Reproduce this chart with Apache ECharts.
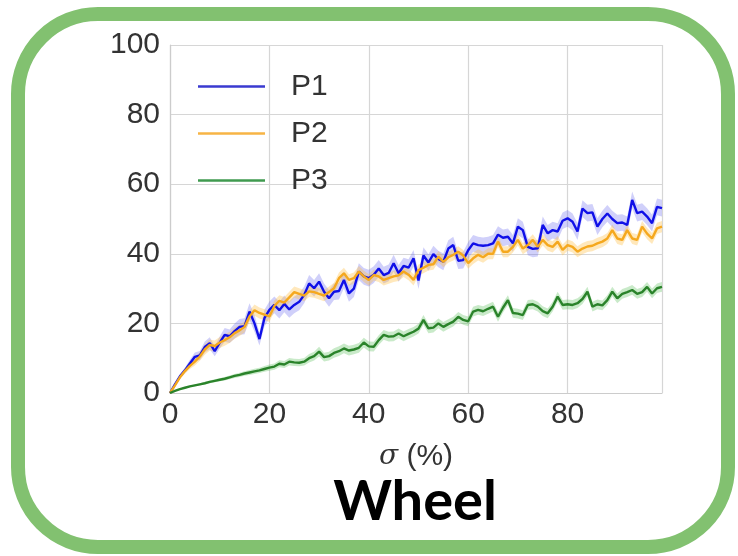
<!DOCTYPE html>
<html>
<head>
<meta charset="utf-8">
<script src="https://cdn.jsdelivr.net/npm/echarts@6/dist/echarts.min.js"></script>
<style>
  html, body { margin: 0; padding: 0; background: #ffffff; }
  #chart { width: 738px; height: 556px; }
</style>
</head>
<body>
<div id="chart"></div>
<script>
// σ (%) positions, one per percent step
const sigma = Array.from({ length: 100 }, (_, i) => String(i));
const xTicks = [0, 20, 40, 60, 80];
const yTicks = [0, 20, 40, 60, 80, 100];

const p1 = [
  0, 2.5, 4.8, 6.5, 8.5, 10.4, 10.8, 13.2, 14.3, 12.0,
  14.5, 16.7, 16.3, 17.8, 19.0, 19.2, 23.4, 20.0, 15.5, 21.5,
  23.9, 25.3, 23.8, 25.6, 24.0, 25.3, 26.2, 28.2, 31.5, 30.1,
  32.0, 29.1, 27.2, 29.1, 29.3, 32.5, 28.6, 30.0, 34.9, 33.5,
  33.0, 34.0, 35.8, 33.9, 34.5, 37.3, 34.4, 36.5, 36.0, 38.7,
  32.3, 39.5, 37.5, 39.9, 38.5, 37.7, 41.5, 42.5, 38.0, 38.2,
  41.0, 43.0, 42.5, 42.3, 42.5, 43.0, 45.5, 44.6, 44.9, 43.0,
  47.8, 46.8, 42.0, 41.4, 41.6, 48.3, 45.9, 46.8, 46.4, 49.5,
  50.2, 49.2, 46.4, 53.0, 51.7, 51.9, 47.8, 50.0, 51.6, 50.0,
  48.8, 49.0, 48.3, 55.5, 51.7, 52.1, 50.7, 48.8, 53.5, 53.1
];
const p2 = [
  0, 2.2, 4.5, 6.3, 7.8, 9.0, 10.5, 12.5, 13.8, 13.5,
  14.5, 15.2, 16.0, 17.2, 18.0, 19.0, 22.0, 23.8, 23.0, 22.5,
  22.0, 25.0, 26.5, 26.0, 27.5, 29.0, 28.5, 28.0, 29.2, 29.0,
  28.5, 28.0, 29.0, 30.1, 33.0, 34.4, 32.5, 33.0, 34.9, 33.5,
  32.5, 33.9, 33.5, 32.5, 33.0, 33.5, 33.8, 34.9, 34.0, 32.5,
  35.3, 36.0, 36.8, 37.0, 39.2, 37.7, 39.0, 39.7, 40.6, 39.5,
  37.3, 38.7, 39.7, 39.0, 40.0, 40.0, 43.5, 40.6, 40.6, 42.0,
  44.0, 41.5, 42.5, 44.0, 42.0, 44.0, 42.5, 42.0, 43.5, 41.1,
  42.5, 42.0, 40.6, 41.5, 42.1, 42.3, 43.0, 43.5, 44.4, 46.8,
  44.4, 44.0, 46.8, 44.4, 44.0, 47.8, 45.8, 44.4, 47.3, 47.8
];
const p3 = [
  0, 0.6, 1.1, 1.5, 1.9, 2.2, 2.5, 2.8, 3.2, 3.5,
  3.8, 4.1, 4.5, 4.9, 5.2, 5.6, 5.9, 6.2, 6.5, 6.9,
  7.3, 7.6, 8.4, 8.2, 9.0, 8.8, 8.7, 9.0, 10.0, 10.6,
  11.9, 10.3, 10.6, 11.5, 12.0, 12.8, 12.2, 12.5, 13.0, 14.5,
  13.4, 13.3, 15.2, 16.7, 16.2, 16.3, 17.1, 16.3, 17.0, 17.6,
  18.5, 21.0, 18.6, 18.8, 20.0, 19.0, 19.8, 20.5, 21.9, 21.0,
  20.6, 23.4, 23.9, 23.5, 24.2, 24.8, 21.9, 24.5, 26.7, 23.0,
  22.8, 22.4, 25.3, 25.5, 24.8, 23.5, 22.9, 24.8, 27.7, 25.3,
  25.5, 25.3, 25.8, 27.0, 29.1, 24.8, 25.5, 25.2, 26.7, 29.1,
  27.2, 28.5, 29.0, 29.6, 28.5, 29.0, 30.5, 28.6, 30.1, 30.5
];

// half-widths of the shaded confidence bands
const bandP1 = 2.4;
const bandP2 = 1.6;
const bandP3 = 1.4;

const traces = [
  { name: 'P1', values: p1, band: bandP1, line: '#1010e8', legend: '#3a3ad0', fill: 'rgba(100,100,240,0.30)' },
  { name: 'P2', values: p2, band: bandP2, line: '#f5a81e', legend: '#f7b445', fill: 'rgba(255,190,70,0.36)' },
  { name: 'P3', values: p3, band: bandP3, line: '#2a832a', legend: '#3f9a4f', fill: 'rgba(90,190,90,0.33)' }
];

const series = [];
traces.forEach(t => {
  const half = t.values.map(v => Math.min(t.band, v * 0.12));
  series.push({
    name: t.name + ' lo', type: 'line', stack: t.name, data: t.values.map((v, i) => v - half[i]),
    symbol: 'none', lineStyle: { opacity: 0 }, silent: true, z: 1
  });
  series.push({
    name: t.name + ' hi', type: 'line', stack: t.name, data: half.map(h => 2 * h),
    symbol: 'none', lineStyle: { opacity: 0 }, areaStyle: { color: t.fill, opacity: 1 }, silent: true, z: 1
  });
});
traces.forEach(t => {
  series.push({
    name: t.name, type: 'line', data: t.values, symbol: 'none',
    lineStyle: { width: 2.4, color: t.line }, itemStyle: { color: t.legend }, z: 3
  });
});

const onTick = i => xTicks.includes(Number(i));

const chart = echarts.init(document.getElementById('chart'), null, { renderer: 'canvas' });
chart.setOption({
  animation: false,
  backgroundColor: '#ffffff',
  grid: { left: 170, top: 45, width: 492, height: 348, containLabel: false },
  legend: {
    data: ['P1', 'P2', 'P3'],
    orient: 'vertical',
    left: 193,
    top: 66,
    icon: 'rect',
    itemWidth: 67,
    itemHeight: 2.5,
    itemGap: 16,
    textStyle: { fontFamily: 'Liberation Sans', fontSize: 30, color: '#333333', padding: [0, 0, 0, 21], lineHeight: 31 }
  },
  xAxis: {
    type: 'category',
    data: sigma,
    boundaryGap: false,
    name: '{i|σ} (%)',
    nameLocation: 'middle',
    nameGap: 49,
    nameTextStyle: {
      fontFamily: 'Liberation Sans', fontSize: 30, color: '#333333',
      rich: { i: { fontFamily: 'DejaVu Serif', fontStyle: 'italic', fontSize: 28, color: '#333333' } }
    },
    axisLine: { show: true, lineStyle: { color: '#cccccc', width: 1.2 } },
    axisTick: { show: false },
    axisLabel: {
      interval: (i) => onTick(i),
      fontFamily: 'Liberation Sans', fontSize: 30, color: '#333333', margin: 7
    },
    splitLine: {
      show: true,
      interval: (i) => onTick(i) || i === sigma.length - 1,
      lineStyle: { color: '#d6d6d6', width: 1.2 }
    }
  },
  yAxis: {
    type: 'value',
    min: yTicks[0],
    max: yTicks[yTicks.length - 1],
    interval: 20,
    axisLine: { show: true, lineStyle: { color: '#cccccc', width: 1.2 } },
    axisTick: { show: false },
    axisLabel: { fontFamily: 'Liberation Sans', fontSize: 30, color: '#333333', margin: 10 },
    splitLine: { show: true, lineStyle: { color: '#d6d6d6', width: 1.2 } }
  },
  graphic: [
    {
      type: 'rect', silent: true, z: 100,
      shape: { x: 18, y: 14, width: 710, height: 533, r: 80 },
      style: { fill: 'none', stroke: '#82c170', lineWidth: 14 }
    },
    {
      type: 'text', silent: true, z: 100,
      x: 415, y: 530,
      style: { text: 'Wheel', font: 'bold 56px Lato', fill: '#000000', textAlign: 'center', textVerticalAlign: 'bottom' }
    }
  ],
  series: series
});
</script>
</body>
</html>
